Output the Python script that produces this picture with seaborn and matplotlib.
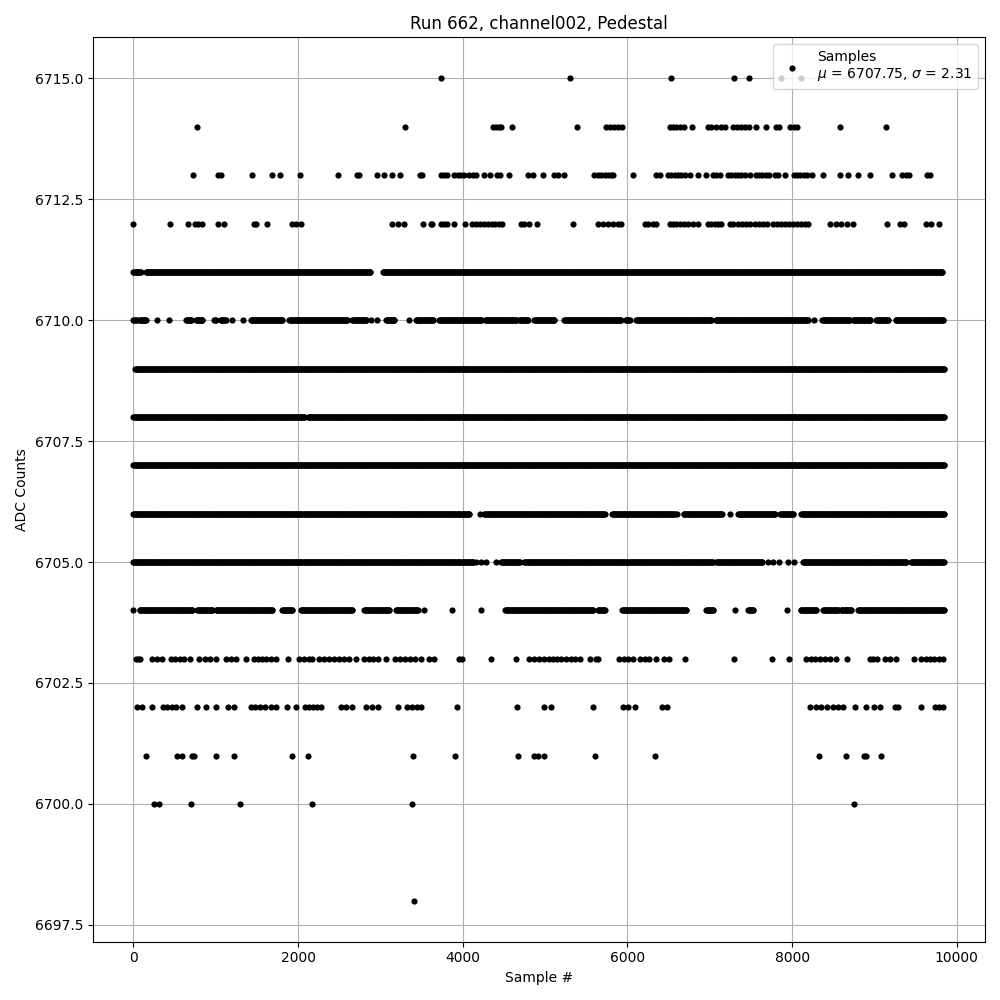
import numpy as np
import pandas as pd
import matplotlib
matplotlib.use("Agg")
import matplotlib.pyplot as plt
import seaborn as sns

# ---- Data ----
# Sparse ADC levels: sample numbers at which a dot appears
lvl_6715 = [3742, 5301, 6528, 7293, 7475, 7862, 8102]
lvl_6714 = [778, 3305, 4371, 4404, 4436, 4468, 4597, 5386, 5742, 5791, 5840, 5888,
            5937, 6512, 6552, 6593, 6633, 6682, 6783, 6977, 7018, 7070, 7139, 7180,
            7281, 7330, 7378, 7427, 7475, 7556, 7678, 7799, 7840, 7970, 8018, 8059,
            8577, 9144]
lvl_6713 = [729, 1029, 1069, 1446, 1689, 1786, 2029, 2491, 2718, 2742, 2965, 3038,
            3147, 3244, 3483, 3503, 3734, 3775, 3815, 3896, 3937, 3977, 4018, 4078,
            4119, 4159, 4253, 4330, 4411, 4451, 4556, 4787, 4848, 4970, 5114, 5155,
            5236, 5600, 5641, 5681, 5722, 5762, 5803, 5831, 6066, 6350, 6398, 6491,
            6532, 6572, 6613, 6653, 6694, 6763, 6856, 6957, 7038, 7079, 7119, 7220,
            7261, 7301, 7342, 7382, 7423, 7484, 7556, 7597, 7637, 7678, 7718, 7787,
            7828, 7909, 8018, 8059, 8099, 8140, 8180, 8245, 8375, 8577, 8678, 8800,
            8942, 9213, 9338, 9387, 9420, 9638, 9679]
lvl_6712 = [0, 446, 668, 749, 790, 830, 1033, 1106, 1466, 1494, 1628, 1924, 1972,
            2033, 3147, 3208, 3289, 3519, 3613, 3633, 3734, 3775, 3815, 3896, 4022,
            4111, 4159, 4208, 4257, 4305, 4354, 4394, 4435, 4475, 4706, 4747, 4799,
            4900, 5337, 5641, 5702, 5762, 5823, 5884, 5924, 6208, 6249, 6309, 6350,
            6512, 6552, 6593, 6633, 6682, 6734, 6795, 6856, 6977, 7018, 7058, 7099,
            7139, 7241, 7281, 7342, 7394, 7443, 7492, 7544, 7597, 7645, 7694, 7767,
            7816, 7864, 7913, 7961, 8010, 8059, 8107, 8156, 8196, 8464, 8528, 8597,
            8666, 8739, 9156, 9306, 9359, 9622, 9691, 9780]
lvl_6703 = [28, 55, 80, 231, 290, 350, 454, 510, 565, 616, 685, 798, 871, 935, 1001,
            1130, 1190, 1250, 1373, 1466, 1515, 1565, 1615, 1670, 1730, 1884, 2013,
            2075, 2135, 2175, 2256, 2320, 2380, 2440, 2500, 2560, 2620, 2710, 2803,
            2860, 2915, 2970, 3066, 3179, 3240, 3300, 3360, 3420, 3491, 3593, 3653,
            3957, 3990, 4342, 4646, 4808, 4870, 4930, 4990, 5050, 5100, 5150, 5195,
            5256, 5310, 5365, 5420, 5540, 5613, 5641, 5896, 5955, 6010, 6070, 6147,
            6208, 6265, 6350, 6439, 6503, 6698, 7293, 7755, 7961, 8172, 8225, 8280,
            8335, 8400, 8460, 8537, 8666, 8942, 8985, 9030, 9124, 9193, 9257, 9476,
            9560, 9620, 9670, 9720, 9780, 9830]
lvl_6702 = [49, 109, 231, 360, 413, 466, 522, 595, 778, 887, 1009, 1155, 1223, 1426,
            1478, 1535, 1600, 1669, 1729, 1871, 1973, 2086, 2134, 2183, 2236, 2276,
            2519, 2580, 2653, 2831, 2896, 2977, 3208, 3329, 3382, 3439, 3491, 3925,
            4654, 4990, 5074, 5580, 5945, 6006, 6087, 6422, 6479, 8213, 8294, 8355,
            8423, 8496, 8557, 8618, 8759, 8893, 8990, 9071, 9245, 9286, 9570, 9732,
            9784, 9833]
lvl_6701 = [158, 535, 595, 709, 737, 1001, 1228, 1921, 2126, 3400, 3908, 4666, 4868,
            4909, 4990, 5604, 6333, 8326, 8650, 8869, 8901, 9079]
lvl_6700 = [251, 312, 705, 1300, 2175, 3390, 8751]
lvl_6698 = [3404]

# Dense ADC levels: runs (first sample, last sample) of consecutive dots
runs_6711 = [(0, 90), (150, 2880), (3030, 9825)]
runs_6710 = [(0, 40), (75, 150), (292, 292), (434, 434), (636, 700), (760, 839),
             (984, 1000), (1060, 1120), (1203, 1203), (1333, 1333), (1426, 1811),
             (1892, 2600), (2661, 2823), (2892, 2892), (2965, 2965), (3066, 3168),
             (3344, 3344), (3434, 3637), (3717, 4223), (4273, 4645), (4686, 4787),
             (4868, 5114), (5236, 5924), (5977, 6026), (6107, 7018), (7070, 8192),
             (8261, 8261), (8366, 8698), (8739, 8950), (9023, 9164), (9257, 9832)]
runs_6709 = [(20, 9850)]
runs_6708 = [(0, 2075), (2120, 9845)]
runs_6707 = [(0, 9850)]
runs_6706 = [(0, 4081), (4204, 4204), (4264, 5722), (5815, 6573), (6601, 6601),
             (6682, 7152), (7249, 7249), (7346, 7788), (7856, 8010), (8111, 9845)]
runs_6705 = [(0, 4122), (4163, 4163), (4224, 4224), (4284, 4284), (4406, 4406),
             (4467, 4690), (4750, 7038), (7079, 7638), (7706, 7706), (7767, 7767),
             (7840, 7840), (7949, 7949), (8018, 8018), (8132, 9387), (9448, 9845)]
runs_6704 = [(0, 0), (77, 709), (778, 960), (1001, 1690), (1811, 1924), (2033, 2661),
             (2803, 3106), (3187, 3451), (3532, 3532), (3868, 3868), (4220, 4220),
             (4515, 5580), (5641, 5722), (5937, 6714), (6957, 7038), (7301, 7301),
             (7463, 7524), (7937, 7937), (8103, 8294), (8375, 8557), (8590, 8719),
             (8800, 9850)]

sparse_levels = {6715: lvl_6715, 6714: lvl_6714, 6713: lvl_6713, 6712: lvl_6712,
                 6703: lvl_6703, 6702: lvl_6702, 6701: lvl_6701, 6700: lvl_6700,
                 6698: lvl_6698}
dense_levels = {6711: runs_6711, 6710: runs_6710, 6709: runs_6709, 6708: runs_6708,
                6707: runs_6707, 6706: runs_6706, 6705: runs_6705, 6704: runs_6704}

title = "Run 662, channel002, Pedestal"
legend_label = "Samples\n$\\mu$ = 6707.75, $\\sigma$ = 2.31"

# ---- Build table ----
xs, ys = [], []
for lvl, pts in sparse_levels.items():
    xs.extend(pts)
    ys.extend([lvl] * len(pts))
for lvl, runs in dense_levels.items():
    for a, b in runs:
        seg = list(range(a, b + 1, 10))
        if seg[-1] != b:
            seg.append(b)
        xs.extend(seg)
        ys.extend([lvl] * len(seg))
df = pd.DataFrame({"sample": xs, "adc": ys})

# ---- Plot ----
fig, ax = plt.subplots(figsize=(10, 10), dpi=100)
sns.scatterplot(data=df, x="sample", y="adc", color="black", s=20,
                linewidth=0, ax=ax, label=legend_label)
ax.set_title(title)
ax.set_xlabel("Sample #")
ax.set_ylabel("ADC Counts")
ax.grid(True)
ax.set_axisbelow(True)
ax.legend(loc="upper right")
fig.tight_layout()
fig.savefig("out.png", dpi=100)
